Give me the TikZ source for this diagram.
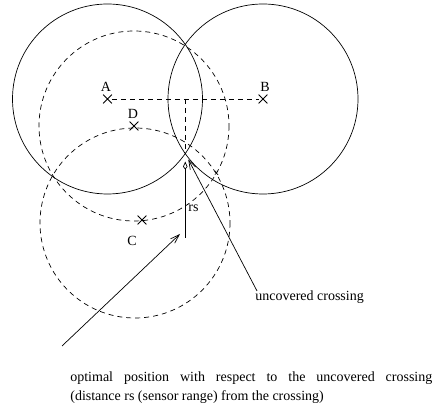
\documentclass[tikz,border=0pt]{standalone}
\usepackage{fontspec}
\setmainfont{Liberation Serif}
\usetikzlibrary{shapes.misc,arrows.meta}

\begin{document}
\begin{tikzpicture}[x=1pt,y=-1pt,line width=0.7pt,
  rangeline/.style={dash pattern=on 5pt off 4pt},
  sensor/.style={cross out,draw,minimum size=8pt,inner sep=0pt,line width=0.8pt},
  lbl/.style={font=\fontsize{14}{19.5}\selectfont,inner sep=0pt},
  pointer/.style={-{Straight Barb[length=9pt,width=6pt]}}]
\useasboundingbox (0,0) rectangle (440,414);
\node[sensor] (A) at (107.5,99) {};
\node[sensor] (B) at (263,99) {};
\node[sensor] (D) at (134,126) {};
\node[sensor] (C) at (142,220) {};
\draw (A.center) circle (95);
\draw (B.center) circle (95);
\draw[rangeline] (D.center) circle (95);
\draw[rangeline] (135,223) circle (95);
\coordinate (X) at (185.25,153.6);
\coordinate (P) at (185.25,238);
\coordinate (tipP) at (180,234);
\coordinate (opt) at (62,346);
\node[lbl,anchor=south] (labA) at (106,92) {A};
\node[lbl,anchor=south] (labB) at (265,92) {B};
\node[lbl,anchor=south] (labD) at (133,119) {D};
\node[lbl,anchor=north] (labC) at (132,236) {C};
\node[lbl,anchor=base west] (rs) at (188,212) {rs};
\node[font=\fontsize{9}{10}\selectfont,inner sep=0pt] (x) at (216.5,173) {x};
\draw[rangeline] (A) -- (B);
\draw[rangeline] (X |- A) -- (X);
\draw[-{Kite[open,length=8pt,width=4.5pt,inset=3pt]},shorten >=8pt] (P) -- (X);
\node[lbl,anchor=base west] (uc) at (255,301) {uncovered crossing};
\draw[pointer,shorten >=6.5pt] ([xshift=2pt]uc.north west) -- (X);
\node[lbl,anchor=north west,align=left] (optpos) at (70,371)
  {\makebox[362pt][s]{optimal position with respect to the uncovered crossing}\\(distance rs (sensor range) from the crossing)};
\draw[pointer] (opt) -- (tipP);
\end{tikzpicture}
\end{document}
